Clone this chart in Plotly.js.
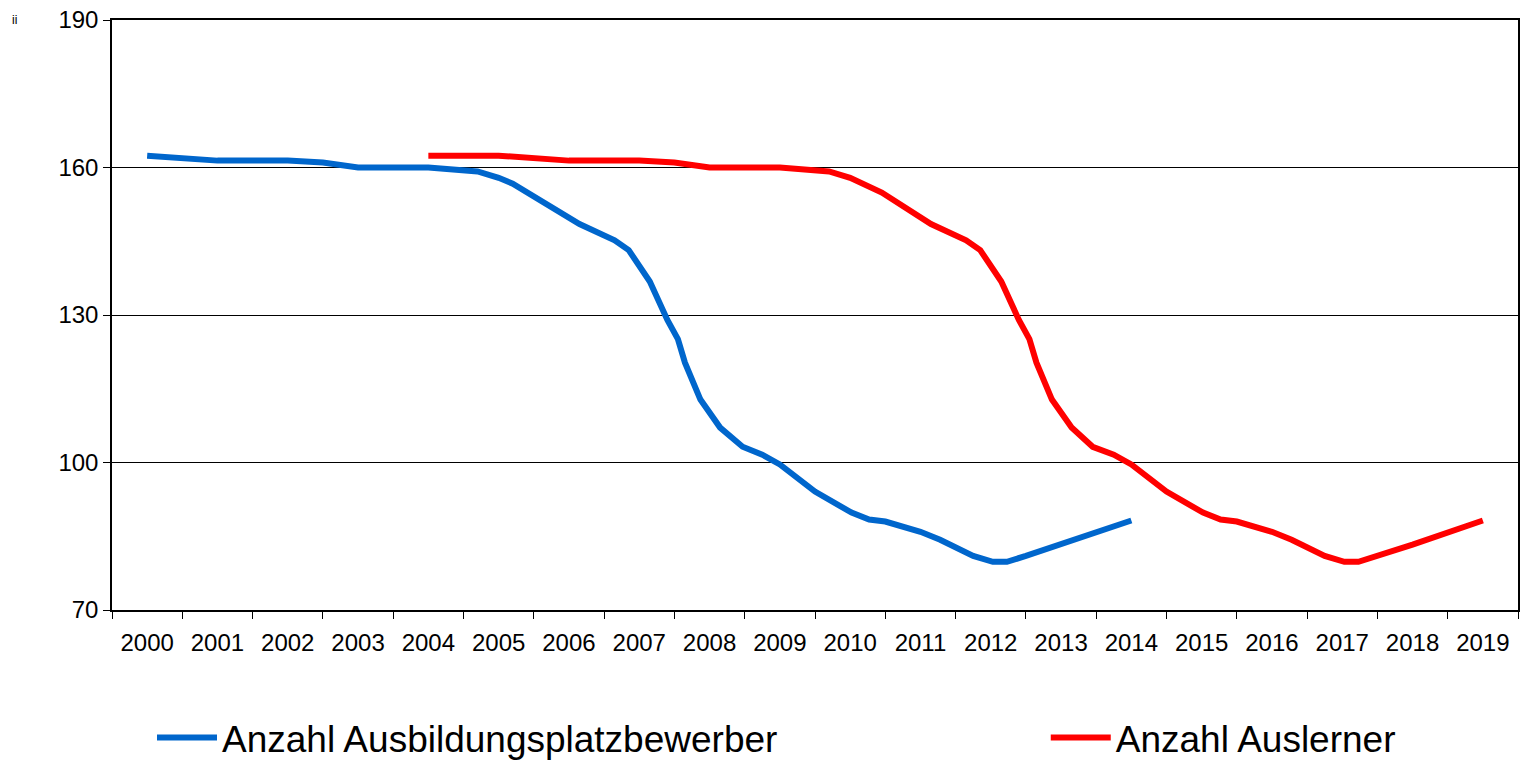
<!DOCTYPE html>
<html>
<head>
<meta charset="utf-8">
<script src="https://cdn.plot.ly/plotly-3.0.1.min.js"></script>
<style>
  html, body { margin: 0; padding: 0; background: #fff; }
  #plot { width: 1520px; height: 760px; }
</style>
</head>
<body>
<div id="plot"></div>
<script>
// category labels on the x axis
let years = ["2000", "2001", "2002", "2003", "2004", "2005", "2006", "2007", "2008", "2009",
             "2010", "2011", "2012", "2013", "2014", "2015", "2016", "2017", "2018", "2019"];
let yearPos = [2000, 2001, 2002, 2003, 2004, 2005, 2006, 2007, 2008, 2009,
               2010, 2011, 2012, 2013, 2014, 2015, 2016, 2017, 2018, 2019];
let yearBounds = [1999.5, 2000.5, 2001.5, 2002.5, 2003.5, 2004.5, 2005.5, 2006.5, 2007.5, 2008.5, 2009.5,
                  2010.5, 2011.5, 2012.5, 2013.5, 2014.5, 2015.5, 2016.5, 2017.5, 2018.5, 2019.5];

// Anzahl Ausbildungsplatzbewerber
let blueYears = [2000, 2001, 2002, 2002.5, 2003, 2004, 2004.7, 2005, 2005.2, 2005.4,
                 2006.15, 2006.65, 2006.85, 2007.15, 2007.4, 2007.55, 2007.65, 2007.87, 2008.15, 2008.47,
                 2008.75, 2009, 2009.5, 2010.02, 2010.27, 2010.5, 2011, 2011.28, 2011.75, 2012.03,
                 2012.23, 2012.5, 2012.78, 2013, 2014];
let blueValues = [162.4, 161.4, 161.4, 161.0, 160.0, 160.0, 159.2, 157.9, 156.7, 154.9,
                  148.5, 145.2, 143.2, 136.8, 129.0, 125.1, 120.3, 112.8, 107.1, 103.2,
                  101.6, 99.6, 94.1, 89.8, 88.4, 88.0, 85.9, 84.3, 81.0, 79.8,
                  79.8, 81.0, 82.4, 83.3, 88.2];

// Anzahl Auslerner
let redYears = [2004, 2005, 2006, 2007, 2007.5, 2008, 2009, 2009.7, 2010, 2010.2,
                2010.45, 2011.15, 2011.65, 2011.85, 2012.15, 2012.4, 2012.55, 2012.65, 2012.87, 2013.15,
                2013.45, 2013.75, 2014, 2014.5, 2015.02, 2015.27, 2015.5, 2016, 2016.28, 2016.75,
                2017.03, 2017.23, 2017.5, 2017.78, 2018, 2019];
let redValues = [162.4, 162.4, 161.4, 161.4, 161.0, 160.0, 160.0, 159.2, 157.9, 156.7,
                 154.9, 148.5, 145.2, 143.2, 136.8, 129.0, 125.1, 120.3, 112.8, 107.1,
                 103.2, 101.6, 99.6, 94.1, 89.8, 88.4, 88.0, 85.9, 84.3, 81.0,
                 79.8, 79.8, 81.0, 82.4, 83.3, 88.2];

let yTicks = [70, 100, 130, 160, 190];

let traceBlue = {
    x: blueYears,
    y: blueValues,
    mode: "lines",
    name: "Anzahl Ausbildungsplatzbewerber",
    type: "scatter",
    legend: "legend",
    line: {color: "#0066cc", width: 6}
};
let traceRed = {
    x: redYears,
    y: redValues,
    mode: "lines",
    name: "Anzahl Auslerner",
    type: "scatter",
    legend: "legend2",
    line: {color: "#ff0000", width: 6}
};

// both legend boxes share these settings
let legendBase = {
    orientation: "h",
    xref: "container",
    xanchor: "left",
    yref: "container",
    y: 0.029,
    yanchor: "middle",
    font: {size: 37, color: "#000"},
    itemwidth: 60,
    bgcolor: "rgba(0,0,0,0)"
};

let layout = {
    width: 1520,
    height: 760,
    margin: {l: 112, r: 2, t: 20, b: 150, autoexpand: false},
    paper_bgcolor: "#fff",
    plot_bgcolor: "#fff",
    font: {family: "Liberation Sans, Arial, sans-serif", color: "#000"},
    showlegend: true,
    legend: Object.assign({}, legendBase, {x: 0.1}),
    legend2: Object.assign({}, legendBase, {x: 0.688}),
    xaxis: {
        range: [1999.5, 2019.5],
        tickmode: "array",
        tickvals: yearPos,
        ticktext: years,
        ticks: "",
        showgrid: false,
        zeroline: false,
        showline: true,
        linecolor: "#000",
        linewidth: 1.5,
        mirror: true,
        tickfont: {size: 24},
        ticklabelstandoff: 10,
        minor: {
            tickmode: "array",
            tickvals: yearBounds,
            ticks: "outside",
            ticklen: 7,
            tickcolor: "#000",
            tickwidth: 1,
            showgrid: false
        }
    },
    yaxis: {
        range: [70, 190],
        tickmode: "array",
        tickvals: yTicks,
        ticks: "outside",
        ticklen: 7,
        tickcolor: "#000",
        showgrid: true,
        gridcolor: "#000",
        gridwidth: 1,
        zeroline: false,
        showline: true,
        linecolor: "#000",
        linewidth: 1.5,
        mirror: true,
        tickfont: {size: 24}
    },
    annotations: [{
        text: "ii",
        xref: "paper", yref: "paper",
        x: -0.069, y: 1.0,
        xanchor: "center", yanchor: "middle",
        showarrow: false,
        font: {size: 12, color: "#000"}
    }]
};

Plotly.newPlot("plot", [traceBlue, traceRed], layout, {displayModeBar: false});
</script>
</body>
</html>
